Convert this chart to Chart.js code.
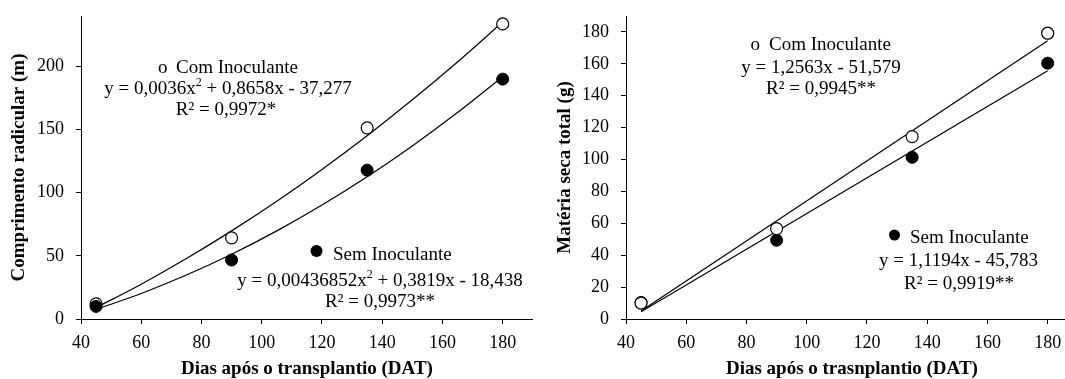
<!DOCTYPE html>
<html>
<head>
<meta charset="utf-8">
<script src="https://cdn.jsdelivr.net/npm/chart.js@4.4.1/dist/chart.umd.min.js"></script>
<style>
  html, body { margin: 0; padding: 0; background: #fff; overflow: hidden; width: 1065px; height: 379px; }
  #wrapL { position: absolute; left: 0; top: 0; width: 540px; height: 379px; }
  #wrapR { position: absolute; left: 540px; top: 0; width: 545px; height: 379px; }
</style>
</head>
<body>
<div id="wrapL"><canvas id="cL" width="540" height="379"></canvas></div>
<div id="wrapR"><canvas id="cR" width="545" height="379"></canvas></div>
<script>
// ---- data ----
const days = [45, 90, 135, 180];
const rootCom = [12, 64.3, 151.4, 233.7];
const rootSem = [10, 46.7, 117.9, 190];
const dryCom = [10, 56.7, 114.4, 179.2];
const drySem = [10.4, 49.4, 101.4, 160.4];

// trend curves (fitted equations shown on it)
const fitDays = [45, 60, 75, 90, 105, 120, 135, 150, 165, 180];
const rootComFit = [9.0, 27.6, 47.9, 69.8, 93.3, 118.5, 145.2, 173.6, 203.6, 235.2];
const rootSemFit = [7.6, 20.2, 34.8, 51.3, 69.8, 90.3, 112.7, 137.1, 163.5, 191.9];
const lineDays = [45, 180];
const dryComFit = [4.95, 174.55];
const drySemFit = [4.59, 155.71];

const xTicks = [40, 60, 80, 100, 120, 140, 160, 180];
const rootTicks = [0, 50, 100, 150, 200];
const dryTicks = [0, 20, 40, 60, 80, 100, 120, 140, 160, 180];

const labelCom = "Com Inoculante";
const labelSem = "Sem Inoculante";
const eqRootCom = [["y = 0,0036x", 0], ["2", 1], [" + 0,8658x - 37,277", 0]];
const r2RootCom = "R² = 0,9972*";
const eqRootSem = [["y = 0,00436852x", 0], ["2", 1], [" + 0,3819x - 18,438", 0]];
const r2RootSem = "R² = 0,9973**";
const eqDryCom = [["y = 1,2563x - 51,579", 0]];
const r2DryCom = "R² = 0,9945**";
const eqDrySem = [["y = 1,1194x - 45,783", 0]];
const r2DrySem = "R² = 0,9919**";

const FONT = '"Liberation Serif", "Times New Roman", serif';

function pts(xs, ys) { return xs.map((x, i) => ({ x: x, y: ys[i] })); }

function richText(ctx, segs, cx, cy, size) {
  const supSize = Math.round(size * 0.65);
  let total = 0;
  const widths = segs.map(([t, sup]) => {
    ctx.font = (sup ? supSize : size) + 'px ' + FONT;
    const w = ctx.measureText(t).width;
    total += w;
    return w;
  });
  let x = cx - total / 2;
  ctx.textAlign = 'left';
  ctx.textBaseline = 'middle';
  segs.forEach(([t, sup], i) => {
    ctx.font = (sup ? supSize : size) + 'px ' + FONT;
    ctx.fillText(t, x, sup ? cy - size * 0.33 : cy);
    x += widths[i];
  });
}

const annotPlugin = {
  id: 'annot',
  afterDatasetsDraw(chart, args, opts) {
    const ctx = chart.ctx;
    ctx.save();
    ctx.fillStyle = '#000';
    ctx.strokeStyle = '#000';
    (opts.items || []).forEach(it => {
      if (it.kind === 'rich') {
        richText(ctx, it.segs, it.x, it.y, it.size);
      } else if (it.kind === 'text') {
        ctx.font = it.size + 'px ' + FONT;
        ctx.textAlign = it.align || 'left';
        ctx.textBaseline = 'middle';
        ctx.fillText(it.text, it.x, it.y);
      } else if (it.kind === 'dot') {
        ctx.beginPath();
        ctx.arc(it.x, it.y, it.r, 0, Math.PI * 2);
        ctx.fill();
      }
    });
    ctx.restore();
  }
};

function axisCommon(title, min, max, tickVals, isX) {
  return {
    type: 'linear',
    min: min, max: max,
    afterBuildTicks: (s) => { s.ticks = tickVals.map(v => ({ value: v })); },
    ticks: {
      color: '#000',
      font: { family: FONT, size: 18 },
      padding: isX ? 8 : 12,
      maxRotation: 0,
      autoSkip: false
    },
    grid: { display: true, drawOnChartArea: false, drawTicks: true, tickLength: 5, color: '#000', lineWidth: 1 },
    border: { display: true, color: '#000', width: 1 },
    title: {
      display: true, text: title, color: '#000',
      font: { family: FONT, size: 19, weight: 'bold', lineHeight: 1 },
      padding: { top: 0, bottom: 0 }
    }
  };
}

function makeChart(id, cfg) {
  const xs = axisCommon(cfg.xTitle, 40, 190, xTicks, true);
  xs.afterFit = (s) => { s.height = 60; s.paddingLeft = 0; s.paddingRight = 0; };
  const ys = axisCommon(cfg.yTitle, 0, cfg.yMax, cfg.yTicks, false);
  ys.title.padding = { top: cfg.yTitlePad, bottom: 0 };
  ys.afterFit = (s) => { s.width = cfg.yWidth; s.paddingTop = 0; s.paddingBottom = 0; };
  return new Chart(document.getElementById(id), {
    type: 'scatter',
    data: {
      datasets: [
        { label: 'fitCom', data: pts(cfg.fitX1, cfg.fitCom), showLine: true, borderColor: '#000', borderWidth: 1.2, pointRadius: 0, cubicInterpolationMode: cfg.curve ? 'monotone' : 'default', tension: 0, fill: false, order: 5 },
        { label: 'fitSem', data: pts(cfg.fitX1, cfg.fitSem), showLine: true, borderColor: '#000', borderWidth: 1.2, pointRadius: 0, cubicInterpolationMode: cfg.curve ? 'monotone' : 'default', tension: 0, fill: false, order: 4 },
        { label: labelCom, data: pts(days, cfg.com), showLine: false, pointRadius: 6, pointBackgroundColor: '#fff', pointBorderColor: '#000', pointBorderWidth: 1.2, order: cfg.comOrder },
        { label: labelSem, data: pts(days, cfg.sem), showLine: false, pointRadius: 6, pointBackgroundColor: '#000', pointBorderColor: '#000', pointBorderWidth: 1, order: cfg.semOrder }
      ]
    },
    options: {
      responsive: false,
      animation: false,
      events: [],
      layout: { padding: { left: 0, top: 16, right: 7, bottom: 0 } },
      plugins: { legend: { display: false }, tooltip: { enabled: false }, annot: { items: cfg.items } },
      scales: { x: xs, y: ys }
    },
    plugins: [annotPlugin]
  });
}

// Left chart: root length
makeChart('cL', {
  xTitle: 'Dias após o transplantio (DAT)',
  yTitle: 'Comprimento radicular (m)',
  yMax: 240, yTicks: rootTicks, yWidth: 81, yTitlePad: 10,
  fitX1: fitDays, fitCom: rootComFit, fitSem: rootSemFit, curve: true,
  com: rootCom, sem: rootSem, comOrder: 2, semOrder: 1,
  items: [
    { kind: 'text', text: 'o', x: 158, y: 68, size: 19 },
    { kind: 'text', text: labelCom, x: 176, y: 68, size: 19 },
    { kind: 'rich', segs: eqRootCom, x: 228, y: 89, size: 19 },
    { kind: 'text', text: r2RootCom, x: 226, y: 110, size: 19, align: 'center' },
    { kind: 'dot', x: 316.5, y: 251, r: 6 },
    { kind: 'text', text: labelSem, x: 333, y: 255, size: 19 },
    { kind: 'rich', segs: eqRootSem, x: 380, y: 281, size: 19 },
    { kind: 'text', text: r2RootSem, x: 380, y: 302, size: 19, align: 'center' }
  ]
});

// Right chart: total dry matter
makeChart('cR', {
  xTitle: 'Dias após o trasnplantio (DAT)',
  yTitle: 'Matéria seca total (g)',
  yMax: 190, yTicks: dryTicks, yWidth: 86, yTitlePad: 16,
  fitX1: lineDays, fitCom: dryComFit, fitSem: drySemFit, curve: false,
  com: dryCom, sem: drySem, comOrder: 1, semOrder: 2,
  items: [
    { kind: 'text', text: 'o', x: 750.5 - 540, y: 45, size: 19 },
    { kind: 'text', text: labelCom, x: 769 - 540, y: 45, size: 19 },
    { kind: 'rich', segs: eqDryCom, x: 821 - 540, y: 68, size: 19 },
    { kind: 'text', text: r2DryCom, x: 821 - 540, y: 89, size: 19, align: 'center' },
    { kind: 'dot', x: 894.5 - 540, y: 235, r: 5.5 },
    { kind: 'text', text: labelSem, x: 910 - 540, y: 238.5, size: 19 },
    { kind: 'rich', segs: eqDrySem, x: 958.5 - 540, y: 261.5, size: 19 },
    { kind: 'text', text: r2DrySem, x: 959 - 540, y: 284.5, size: 19, align: 'center' }
  ]
});
</script>
</body>
</html>
